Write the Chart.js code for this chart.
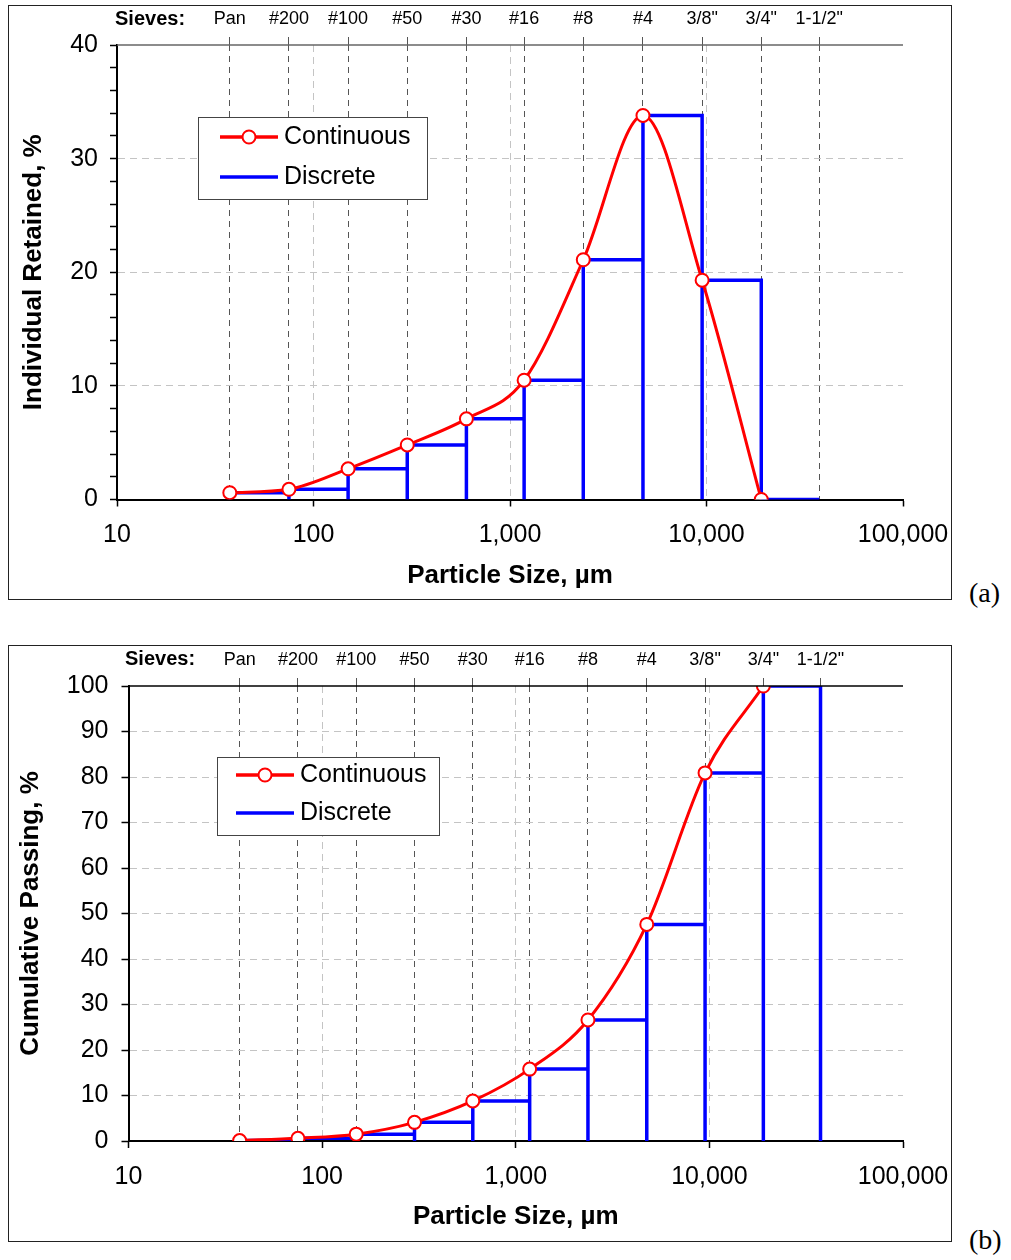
<!DOCTYPE html>
<html>
<head>
<meta charset="utf-8">
<script src="https://cdn.jsdelivr.net/npm/chart.js@4.4.1/dist/chart.umd.min.js"></script>
<style>
body { margin: 0; background: #fff; width: 1011px; height: 1260px; position: relative; }
.panel { position: absolute; left: 8px; width: 942px; border: 1px solid #222; background: #fff; }
.panel canvas { display: block; }
.tag { position: absolute; left: 969px; font-family: "Liberation Serif", "Times New Roman", serif; font-size: 28px; line-height: 32px; }
</style>
</head>
<body>
<div class="panel" style="top:5px;height:593px"><canvas id="chartA" width="942" height="593"></canvas></div>
<div class="tag" style="top:577px">(a)</div>
<div class="panel" style="top:645px;height:595px"><canvas id="chartB" width="942" height="595"></canvas></div>
<div class="tag" style="top:1224px">(b)</div>
<script>
// sieve openings in µm (Pan drawn at half of #200)
const sieveSizes = [37.5, 75, 150, 300, 600, 1180, 2360, 4750, 9500, 19000, 37500];
const sieveLabels = ['Pan', '#200', '#100', '#50', '#30', '#16', '#8', '#4', '3/8"', '3/4"', '1-1/2"'];
const xTicks = [10, 100, 1000, 10000, 100000];

// (a) individual retained, % on each sieve (Pan .. 3/4")
const retained = [0.6, 0.9, 2.7, 4.8, 7.1, 10.5, 21.1, 33.8, 19.3, 0];
// (b) cumulative passing, %
const passing = [0.1, 0.6, 1.5, 4.1, 8.8, 15.8, 26.6, 47.6, 80.9, 100];

const FONT = '"Liberation Sans", Arial, sans-serif';
Chart.defaults.font.family = FONT;
Chart.defaults.color = '#000';

function curvePoints(values) {
    return values.map((v, i) => ({ x: sieveSizes[i], y: v }));
}

// outline of the bars: each one from its sieve to the next larger sieve
function stepPoints(values) {
    const pts = [];
    values.forEach((v, i) => {
        pts.push({ x: sieveSizes[i], y: 0 }, { x: sieveSizes[i], y: v },
                 { x: sieveSizes[i + 1], y: v }, { x: sieveSizes[i + 1], y: 0 });
    });
    return pts;
}

// keep the plot edges where we put them (labels may hang over)
function noOverhang(sc) {
    sc.paddingLeft = 0;
    sc.paddingRight = 0;
    sc.paddingTop = 0;
    sc.paddingBottom = 0;
}

// top border, "Sieves:" and the boxed legend
const extras = {
    id: 'extras',
    afterDraw(chart, args, opts) {
        const { ctx, chartArea: a } = chart;
        ctx.save();
        ctx.strokeStyle = opts.topColor;
        ctx.lineWidth = 1.5;
        ctx.beginPath();
        ctx.moveTo(a.left, a.top);
        ctx.lineTo(a.right, a.top);
        ctx.stroke();

        ctx.fillStyle = '#000';
        ctx.font = 'bold 20px ' + FONT;
        ctx.textBaseline = 'middle';
        ctx.textAlign = 'left';
        ctx.fillText('Sieves:', opts.sieveX, opts.sieveY);

        const L = opts.legend;
        ctx.fillStyle = '#fff';
        ctx.fillRect(L.x, L.y, L.w, L.h);
        ctx.strokeStyle = '#444';
        ctx.lineWidth = 1;
        ctx.strokeRect(L.x + 0.5, L.y + 0.5, L.w, L.h);
        chart.data.datasets.forEach((ds, i) => {
            const y = L.y + L.rows[i];
            ctx.strokeStyle = ds.borderColor;
            ctx.lineWidth = 3.5;
            ctx.beginPath();
            ctx.moveTo(L.x + L.line[0], y);
            ctx.lineTo(L.x + L.line[1], y);
            ctx.stroke();
            if (ds.pointRadius) {
                ctx.beginPath();
                ctx.arc(L.x + (L.line[0] + L.line[1]) / 2, y, ds.pointRadius, 0, Math.PI * 2);
                ctx.fillStyle = '#fff';
                ctx.fill();
                ctx.lineWidth = 2;
                ctx.stroke();
            }
            ctx.fillStyle = '#000';
            ctx.font = '25px ' + FONT;
            ctx.fillText(ds.label, L.x + L.text, y);
        });
        ctx.restore();
    }
};

function makeChart(id, values, s) {
    return new Chart(document.getElementById(id), {
        type: 'line',
        data: {
            datasets: [{
                label: 'Continuous',
                data: curvePoints(values),
                borderColor: '#ff0000',
                borderWidth: 3,
                cubicInterpolationMode: 'monotone',
                pointRadius: 6.5,
                pointBackgroundColor: '#fff',
                pointBorderColor: '#ff0000',
                pointBorderWidth: 2
            }, {
                label: 'Discrete',
                data: stepPoints(values),
                borderColor: '#0000ff',
                borderWidth: 3.5,
                tension: 0,
                pointRadius: 0
            }]
        },
        options: {
            responsive: false,
            animation: false,
            layout: { padding: s.padding },
            plugins: {
                legend: { display: false },
                tooltip: { enabled: false },
                extras: { topColor: s.topColor, sieveX: s.sieveX, sieveY: 13, legend: s.legend }
            },
            scales: {
                x: {
                    type: 'logarithmic',
                    position: 'bottom',
                    min: 10,
                    max: 100000,
                    afterBuildTicks: sc => { sc.ticks = xTicks.map(v => ({ value: v })); },
                    afterFit: sc => { sc.height = s.xHeight; noOverhang(sc); },
                    ticks: {
                        font: { size: 25 },
                        padding: 14,
                        maxRotation: 0,
                        autoSkip: false,
                        callback: v => Number(v).toLocaleString('en-US')
                    },
                    grid: {
                        color: c => (c.tick && c.tick.value > 10 && c.tick.value < 100000) ? '#c4c4c4' : 'rgba(0,0,0,0)',
                        tickColor: '#000',
                        tickLength: 7,
                        tickWidth: 1.5
                    },
                    border: { color: '#000', width: 2, dash: [7, 5] },
                    title: {
                        display: true,
                        text: 'Particle Size, µm',
                        font: { size: 26, weight: 'bold' }
                    }
                },
                x2: {
                    type: 'logarithmic',
                    position: 'top',
                    min: 10,
                    max: 100000,
                    afterBuildTicks: sc => { sc.ticks = sieveSizes.map(v => ({ value: v })); },
                    afterFit: sc => { sc.height = s.topHeight; noOverhang(sc); },
                    ticks: {
                        font: { size: 18 },
                        padding: 7,
                        maxRotation: 0,
                        autoSkip: false,
                        callback: (v, i) => sieveLabels[i]
                    },
                    grid: {
                        color: '#555',
                        lineWidth: 1,
                        tickColor: '#555',
                        tickLength: 8
                    },
                    border: { display: false, dash: [6, 5] }
                },
                y: {
                    min: 0,
                    max: s.yMax,
                    afterFit: sc => { sc.width = s.yWidth; noOverhang(sc); },
                    ticks: {
                        stepSize: s.yStep,
                        autoSkip: false,
                        font: { size: 25 },
                        padding: s.yPad,
                        callback: v => (v % 10 === 0 ? v : '')
                    },
                    grid: {
                        color: c => (c.tick && c.tick.value % 10 === 0 && c.tick.value > 0 && c.tick.value < s.yMax) ? '#c4c4c4' : 'rgba(0,0,0,0)',
                        tickColor: '#000',
                        tickLength: 7,
                        tickWidth: 1.5
                    },
                    border: { color: '#000', width: 2, dash: [7, 5] },
                    title: {
                        display: true,
                        text: s.yTitle,
                        font: { size: 26, weight: 'bold' }
                    }
                }
            }
        },
        plugins: [extras]
    });
}

makeChart('chartA', retained, {
    padding: { left: 5, right: 48, top: 0, bottom: 4 },
    yWidth: 103, xHeight: 95.5, topHeight: 39,
    yMax: 40, yStep: 2, yPad: 12,
    yTitle: 'Individual Retained, %',
    topColor: '#666', sieveX: 106,
    legend: { x: 189, y: 111, w: 229, h: 82, rows: [20, 60], line: [22, 80], text: 86 }
});

makeChart('chartB', passing, {
    padding: { left: 2, right: 48, top: 0, bottom: 5 },
    yWidth: 117.5, xHeight: 95, topHeight: 40,
    yMax: 100, yStep: 10, yPad: 13,
    yTitle: 'Cumulative Passing, %',
    topColor: '#000', sieveX: 116,
    legend: { x: 208, y: 111, w: 222, h: 78, rows: [18, 56], line: [19, 77], text: 83 }
});
</script>
</body>
</html>
